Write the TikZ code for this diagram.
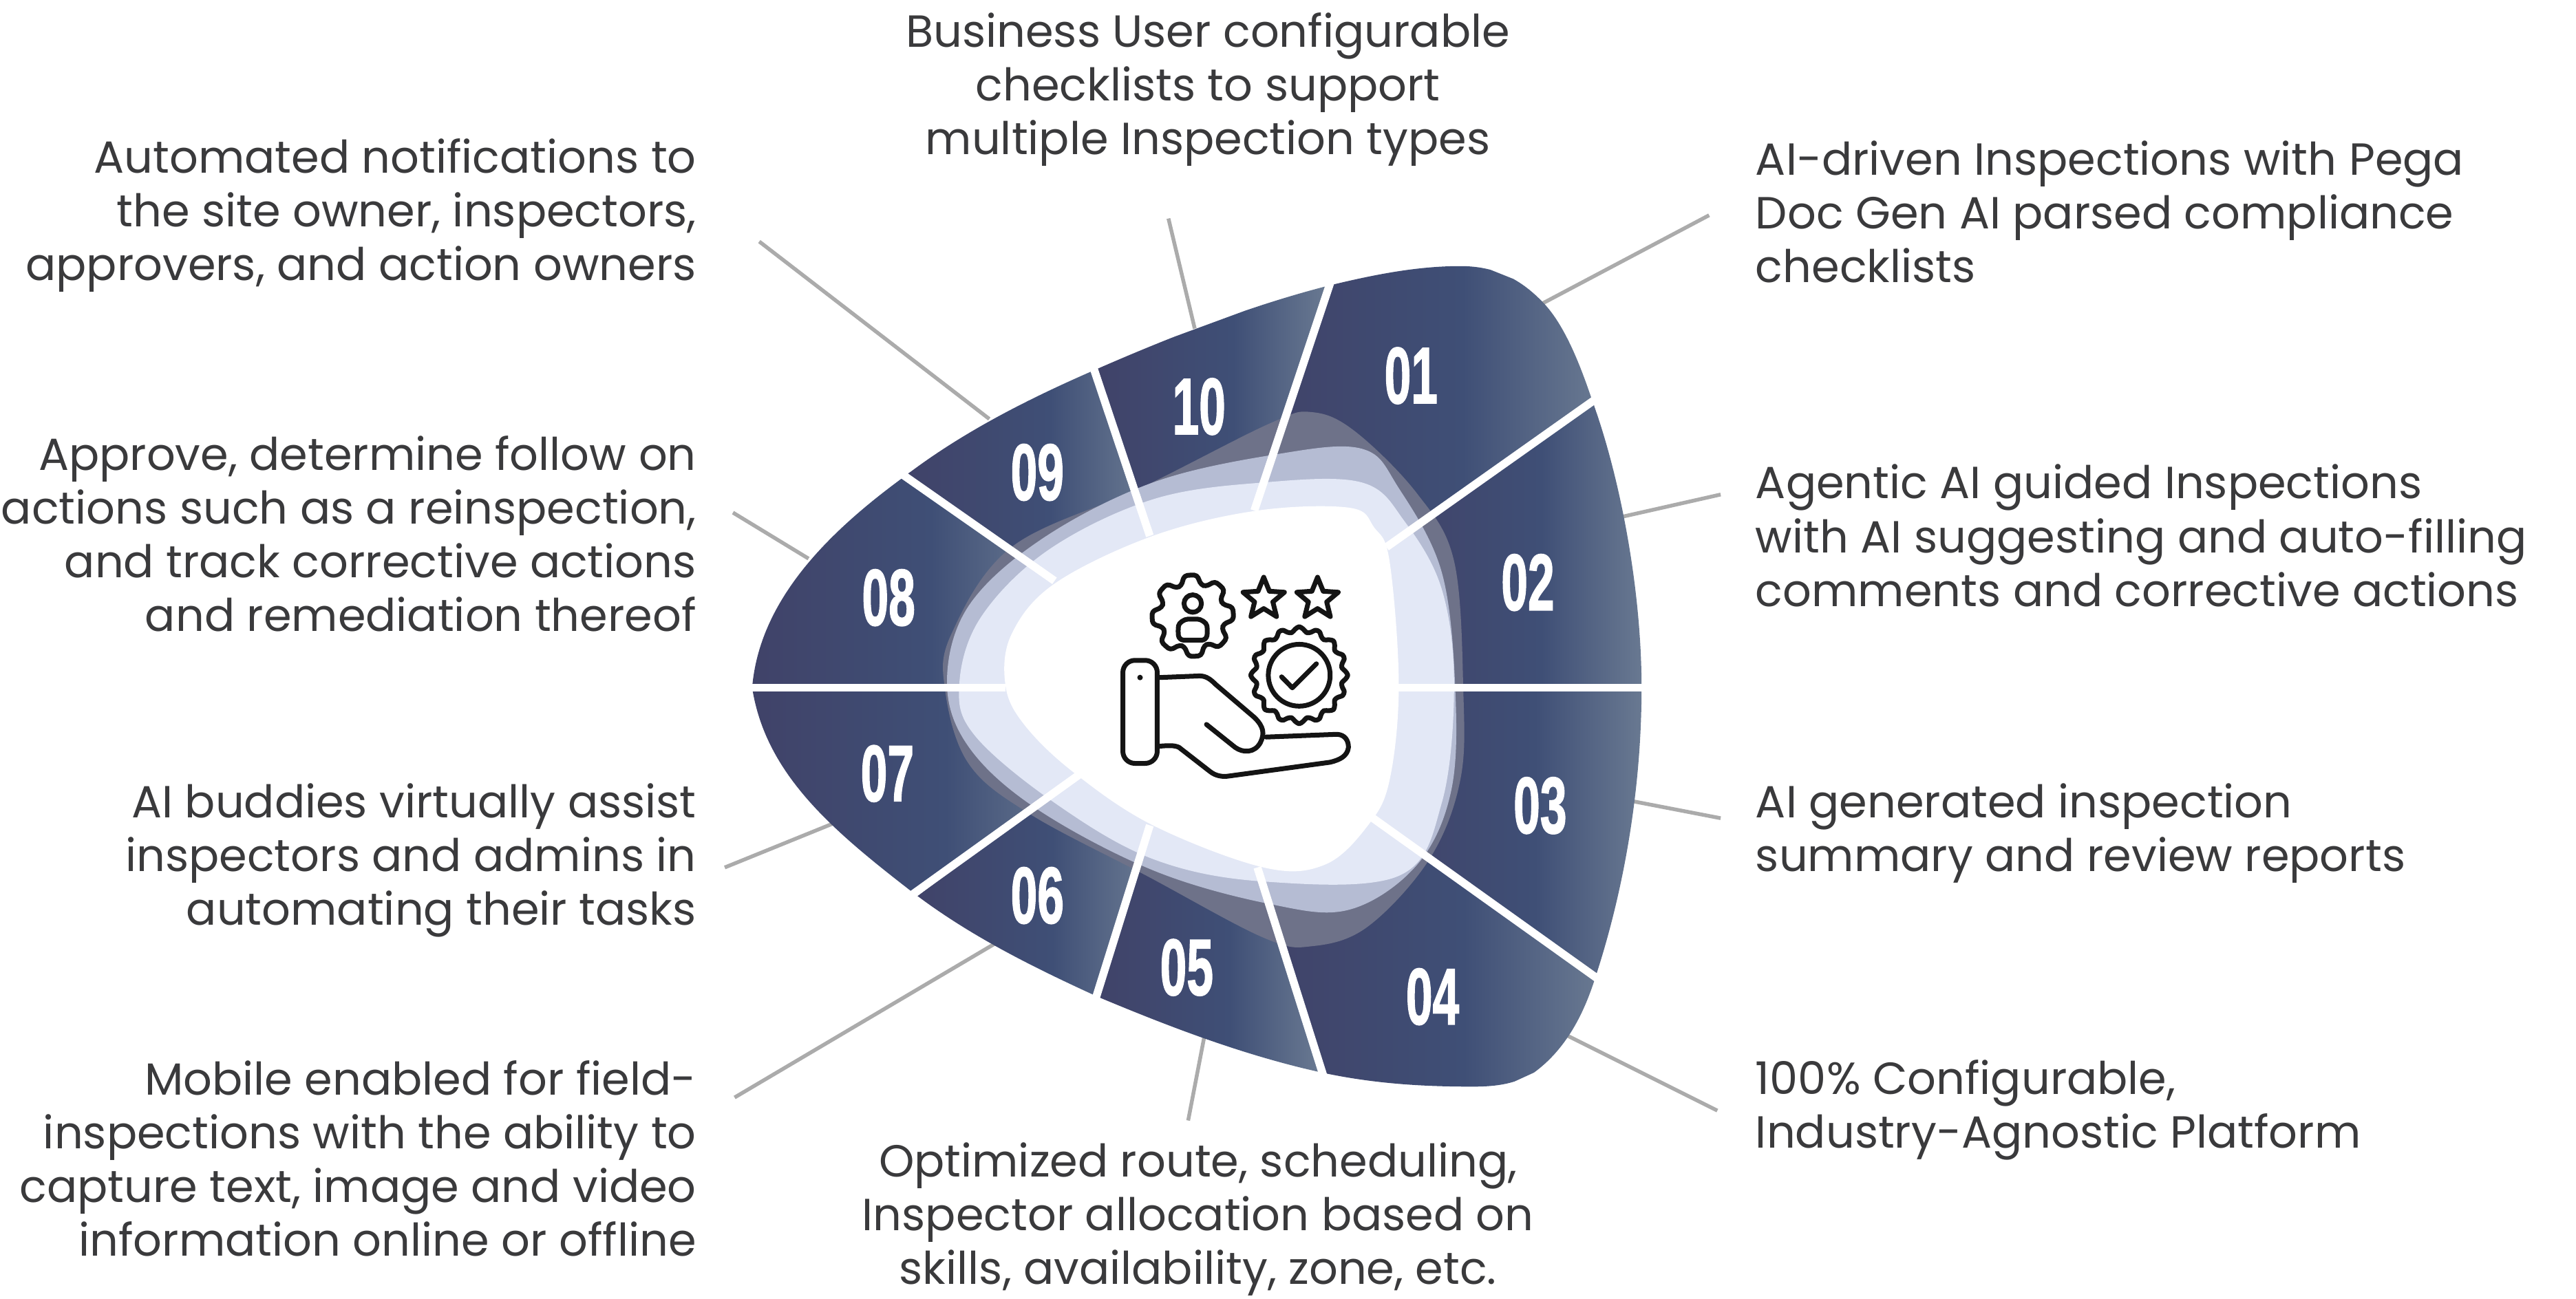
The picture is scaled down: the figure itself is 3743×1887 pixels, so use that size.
\documentclass[tikz,border=0pt]{standalone}
\usepackage{fontspec}
\setmainfont{Poppins}
\newfontfamily\numfont{Liberation Sans Bold}[FakeBold=1.6]
\definecolor{lblc}{HTML}{3A3A3C}
\definecolor{connc}{HTML}{ABABAB}
\definecolor{segA}{HTML}{404268}
\definecolor{segB}{HTML}{3F4F76}
\definecolor{segC}{HTML}{6A7A92}
\definecolor{blobA}{HTML}{6E7289}
\definecolor{blobB}{HTML}{B5BCD3}
\definecolor{blobC}{HTML}{E3E8F6}
\pgfdeclarehorizontalshading{segsh}{100bp}{color(0bp)=(segA); color(25bp)=(segA); color(55bp)=(segB); color(75bp)=(segC); color(100bp)=(segC)}
\tikzset{
  lbl/.style={inner sep=0pt,text=lblc,font=\fontsize{18.6pt}{22.2pt}\selectfont},
  lblr/.style={lbl,anchor=east,align=right},
  lbll/.style={lbl,anchor=west,align=left},
  lblc/.style={lbl,anchor=center,align=center},
  conn/.style={draw=connc,line width=0.55mm},
  segshade/.style={shading=segsh,draw=none},
  sep/.style={draw=white,line width=1.15mm},
  num/.style={text=white,inner sep=0pt,font=\numfont\fontsize{33pt}{33pt}\selectfont,xscale=0.6,transform shape},
  ico/.style={draw=black!92,line width=0.7mm,line join=round,line cap=round},
}
\newcommand{\OuterP}{(48,795) .. controls (60,640) and (170,520) .. (295,420)
  .. controls (390,340) and (500,280) .. (605,230)
  .. controls (730,170) and (860,115) .. (985,80)
  .. controls (1060,60) and (1130,45) .. (1200,45)
  .. controls (1260,45) and (1300,70) .. (1335,110)
  .. controls (1370,150) and (1395,220) .. (1415,285)
  .. controls (1460,420) and (1495,620) .. (1495,795)
  .. controls (1495,980) and (1465,1160) .. (1420,1310)
  .. controls (1400,1380) and (1370,1440) .. (1320,1480)
  .. controls (1290,1500) and (1260,1505) .. (1220,1505)
  .. controls (1140,1505) and (1060,1500) .. (975,1480)
  .. controls (850,1450) and (730,1400) .. (610,1345)
  .. controls (500,1290) and (400,1235) .. (310,1160)
  .. controls (180,1050) and (70,950) .. (48,795) -- cycle}
\newcommand{\SegP}[1]{\begin{scope}\clip \OuterP; \shade[segshade] #1 -- cycle;\end{scope}}
\begin{document}
\begin{tikzpicture}[x=0.01cm,y=-0.01cm]
\useasboundingbox (0,0) rectangle (3743,1887);
% connectors and labels
\begin{scope}[x=0.02387cm,y=-0.02387cm]
\coordinate (c1a) at (1040,131); \coordinate (c1b) at (938,185);
\coordinate (c2a) at (1047,301); \coordinate (c2b) at (985,315);
\coordinate (c3a) at (1047,498); \coordinate (c3b) at (990,487);
\coordinate (c4a) at (1045,676); \coordinate (c4b) at (953,630);
\coordinate (c5a) at (723,682);  \coordinate (c5b) at (733,630);
\coordinate (c6a) at (447,668);  \coordinate (c6b) at (606,574);
\coordinate (c7a) at (441,528);  \coordinate (c7b) at (510,500);
\coordinate (c8a) at (446,312);  \coordinate (c8b) at (492,340);
\coordinate (c9a) at (462,147);  \coordinate (c9b) at (602,255);
\coordinate (c10a) at (711,133); \coordinate (c10b) at (727,200);
\foreach \i in {1,...,10} \draw[conn] (c\i a) -- (c\i b);
\node[lblc] (t10) at (735,54.5) {Business User configurable\\checklists to support\\multiple Inspection types};
\node[lblr] (t9) at (424,131) {Automated notifications to\\the site owner, inspectors,\\approvers, and action owners};
\node[lblr] (t8) at (424,325) {Approve, determine follow on\\actions such as a reinspection,\\and track corrective actions\\and remediation thereof};
\node[lblr] (t7) at (424,523.5) {AI buddies virtually assist\\inspectors and admins in\\automating their tasks};
\node[lblr] (t6) at (424,705) {Mobile enabled for field-\\inspections with the ability to\\capture text, image and video\\information online or offline};
\node[lblc] (t5) at (729,742) {Optimized route, scheduling,\\Inspector allocation based on\\skills, availability, zone, etc.};
\node[lbll] (t1) at (1068,129) {AI-driven Inspections with Pega\\Doc Gen AI parsed compliance\\checklists};
\node[lbll] (t2) at (1068,326) {Agentic AI guided Inspections\\with AI suggesting and auto-filling\\comments and corrective actions};
\node[lbll] (t3) at (1068,507) {AI generated inspection\\summary and review reports};
\node[lbll] (t4) at (1068,675.5) {100\% Configurable,\\Industry-Agnostic Platform};
\end{scope}
% ring
\begin{scope}[shift={(1050,350)},x=0.00893cm,y=-0.008165cm]
\SegP{(865,480) -- (985,70) -- (1200,30) -- (1360,100) -- (1430,285) -- (1080,545)}
\SegP{(1080,545) -- (1425,270) -- (1500,600) -- (1500,795) -- (1100,795)}
\SegP{(1100,795) -- (1500,795) -- (1500,1000) -- (1430,1320) -- (1055,1025)}
\SegP{(1055,1025) -- (1430,1310) -- (1400,1440) -- (1250,1515) -- (975,1495) -- (870,1115)}
\SegP{(870,1115) -- (975,1490) -- (600,1360) -- (695,1040)}
\SegP{(695,1040) -- (610,1360) -- (300,1180) -- (580,950)}
\SegP{(580,950) -- (310,1170) -- (100,1000) -- (40,795) -- (460,795)}
\SegP{(460,795) -- (40,795) -- (100,580) -- (290,400) -- (540,605)}
\SegP{(540,605) -- (290,410) -- (600,215) -- (695,525)}
\SegP{(695,525) -- (600,225) -- (985,70) -- (865,480)}
\fill[blobA] plot[smooth cycle,tension=0.6] coordinates {(372,700) (470,545) (680,440) (890,325) (960,305) (1030,340) (1130,450) (1190,570) (1205,800) (1200,960) (1150,1100) (1050,1220) (960,1255) (880,1240) (690,1130) (500,1020) (400,930) (362,800)};
\fill[blobB] plot[smooth cycle,tension=0.6] coordinates {(365,785) (400,650) (520,530) (700,430) (900,380) (1040,370) (1100,440) (1170,590) (1192,800) (1185,980) (1130,1110) (1020,1190) (890,1180) (700,1120) (510,1010) (400,900)};
\fill[blobC] plot[smooth cycle,tension=0.6] coordinates {(385,790) (420,670) (530,550) (700,460) (880,430) (1040,430) (1110,500) (1170,620) (1190,790) (1170,1000) (1100,1130) (880,1140) (700,1100) (540,1000) (410,880)};
\fill[white] plot[smooth cycle,tension=0.6] coordinates {(460,790) (470,700) (540,610) (700,525) (870,480) (1020,475) (1060,510) (1085,570) (1100,790) (1085,960) (1050,1040) (980,1110) (880,1115) (700,1040) (570,945) (490,860)};
\coordinate (s1a) at (990,70);   \coordinate (s1b) at (865,480);
\coordinate (s2a) at (1425,278); \coordinate (s2b) at (1080,545);
\coordinate (s3a) at (1505,795); \coordinate (s3b) at (1100,795);
\coordinate (s4a) at (1430,1318);\coordinate (s4b) at (1055,1025);
\coordinate (s5a) at (980,1495); \coordinate (s5b) at (870,1115);
\coordinate (s6a) at (605,1355); \coordinate (s6b) at (695,1040);
\coordinate (s7a) at (300,1170); \coordinate (s7b) at (580,950);
\coordinate (s8a) at (38,795);   \coordinate (s8b) at (460,795);
\coordinate (s9a) at (285,410);  \coordinate (s9b) at (540,605);
\coordinate (s10a) at (600,215); \coordinate (s10b) at (695,525);
\foreach \i in {1,...,10} \draw[sep] (s\i a) -- (s\i b);
\node[num] (n1) at (1120,240) {01};
\node[num] (n2) at (1310,608) {02};
\node[num] (n3) at (1330,1005) {03};
\node[num] (n4) at (1155,1345) {04};
\node[num] (n5) at (755,1293) {05};
\node[num] (n6) at (512,1165) {06};
\node[num] (n7) at (268,948) {07};
\node[num] (n8) at (270,635) {08};
\node[num] (n9) at (512,412) {09};
\node[num] (n10) at (775,295) {10};
\end{scope}
% icon
\begin{scope}[shift={(1550,800)},x=0.003333cm,y=-0.003333cm]
% gear
\draw[ico,rounded corners=1.2pt] plot[samples at={0,...,39}] ({550+(mod(\x,5)<2.5?178:140)*cos(\x*9-12)},{285+(mod(\x,5)<2.5?178:140)*sin(\x*9-12)}) -- cycle;
\draw[ico] (550,232) circle (38);
\draw[ico,rounded corners=2pt] (490,392) -- (610,392) -- (615,350) .. controls (610,315) and (585,300) .. (550,300) .. controls (515,300) and (490,315) .. (485,350) -- cycle;
% stars
\foreach \cx in {860,1095} {
  \draw[ico] plot[samples at={0,...,9}] ({\cx+(mod(\x,2)==0?95:42)*sin(\x*36)},{212-(mod(\x,2)==0?95:42)*cos(\x*36)}) -- cycle;
}
% badge
\draw[ico] plot[smooth cycle,samples at={0,5,...,355}] ({1015+(200+12*cos(16*\x))*cos(\x)},{545+(200+12*cos(16*\x))*sin(\x)});
\draw[ico] (1015,545) circle (135);
\draw[ico] (938,552) -- (985,600) -- (1090,495);
% hand
\draw[ico,rounded corners=5pt] (245,480) rectangle (395,930);
\fill[black!92] (320,555) circle (12);
\draw[ico] (405,555) -- (580,548) .. controls (610,548) and (630,565) .. (650,585) -- (820,730) .. controls (860,770) and (865,800) .. (845,840) .. controls (820,885) and (770,885) .. (735,860) -- (610,760);
\draw[ico] (870,815) -- (1180,803) .. controls (1215,805) and (1230,830) .. (1230,860) .. controls (1225,900) and (1190,915) .. (1150,925) -- (710,985) .. controls (680,990) and (650,985) .. (625,965) -- (490,860) .. controls (470,850) and (440,852) .. (405,855);
\end{scope}
\end{tikzpicture}
\end{document}
